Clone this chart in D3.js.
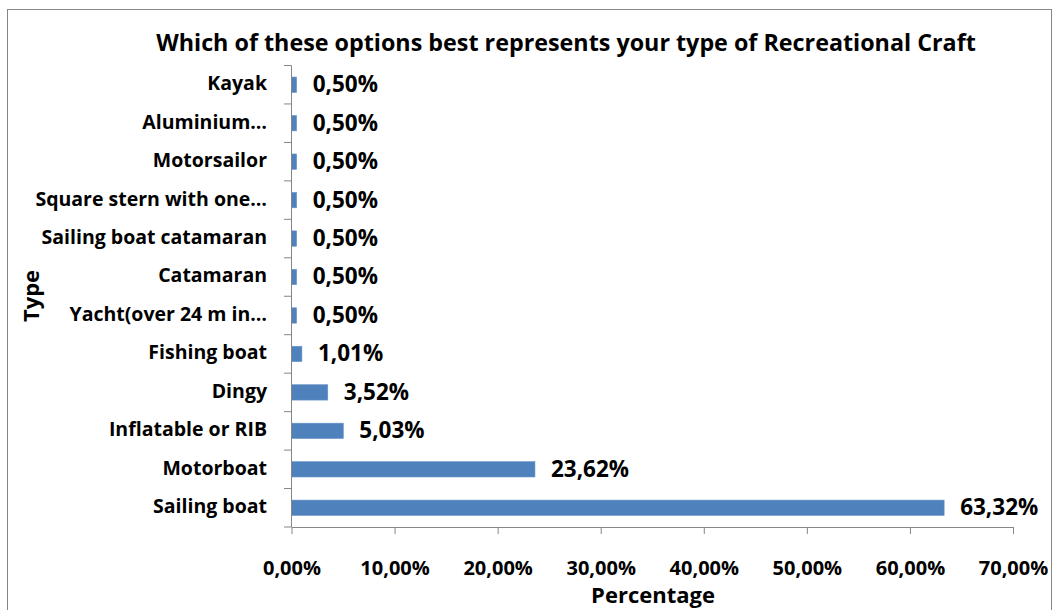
<!DOCTYPE html>
<html>
<head>
<meta charset="utf-8">
<script src="https://cdn.jsdelivr.net/npm/d3@7"></script>
<style>
  body { margin: 0; background: #fff; }
  text { font-family: "Open Sans", sans-serif; font-weight: bold; fill: #000; }
  .axis path, .axis line { stroke: #868686; }
</style>
</head>
<body>
<svg id="chart"></svg>
<script>
// chart data
var categories = ["Sailing boat", "Motorboat", "Inflatable or RIB", "Dingy", "Fishing boat",
  "Yacht(over 24 m in\u2026", "Catamaran", "Sailing boat catamaran", "Square stern with one\u2026",
  "Motorsailor", "Aluminium\u2026", "Kayak"];
var values = [63.32, 23.62, 5.03, 3.52, 1.01, 0.50, 0.50, 0.50, 0.50, 0.50, 0.50, 0.50];
var xTicks = [0, 10, 20, 30, 40, 50, 60, 70];

var width = 1057;
var height = 610;

var svg = d3.select("#chart")
  .attr("width", width)
  .attr("height", height);

// outer frame
svg.append("rect")
  .attr("x", 7.5).attr("y", 9.5)
  .attr("width", 1044).attr("height", 620)
  .attr("fill", "none")
  .attr("stroke", "#868686");

var x = d3.scaleLinear().domain([0, 70]).range([291.5, 1013]);
var y = d3.scaleBand()
  .domain(categories.slice().reverse())
  .range([65.5, 527])
  .paddingInner(0.6)
  .paddingOuter(0.3);

var fmt = function(v) { return v.toFixed(2).replace(".", ",") + "%"; };

// bars
svg.append("g").selectAll("rect")
  .data(values)
  .enter().append("rect")
    .attr("x", x(0))
    .attr("y", (d, i) => y(categories[i]))
    .attr("width", d => x(d) - x(0))
    .attr("height", y.bandwidth())
    .attr("fill", "#4f81bd")
    .attr("stroke", "#6b95c8")
    .attr("stroke-width", 0.6);

// value labels
svg.append("g").selectAll("text")
  .data(values)
  .enter().append("text")
    .attr("x", d => x(d) + 16)
    .attr("y", (d, i) => y(categories[i]) + y.bandwidth() / 2)
    .attr("dy", "0.33em")
    .style("font-size", "22.5px")
    .text(d => fmt(d));

// x axis
var xAxis = svg.append("g")
  .attr("class", "axis")
  .attr("transform", "translate(0,527)")
  .call(d3.axisBottom(x).tickValues(xTicks).tickSize(7).tickSizeOuter(0)
    .tickFormat(d => d.toFixed(2).replace(".", ",") + "%"));
xAxis.selectAll("text")
  .attr("y", 34)
  .style("font-size", "20px")
  .attr("fill", "#000");

// y axis with band-boundary ticks
var yAxis = svg.append("g").attr("class", "axis");
yAxis.append("line")
  .attr("x1", 291.5).attr("x2", 291.5)
  .attr("y1", 65.5).attr("y2", 527);
var step = (527 - 65.5) / categories.length;
yAxis.selectAll("line.tk")
  .data(d3.range(categories.length + 1))
  .enter().append("line")
    .attr("class", "tk")
    .attr("x1", 284).attr("x2", 291.5)
    .attr("y1", i => 65.5 + i * step)
    .attr("y2", i => 65.5 + i * step);
svg.append("g").selectAll("text")
  .data(categories)
  .enter().append("text")
    .attr("x", 267)
    .attr("y", d => y(d) + y.bandwidth() / 2)
    .attr("dy", "0.28em")
    .attr("text-anchor", "end")
    .style("font-size", "19.5px")
    .text(d => d);

// titles
svg.append("text")
  .attr("x", 566).attr("y", 51)
  .attr("text-anchor", "middle")
  .style("font-size", "23.3px")
  .text("Which of these options best represents your type of Recreational Craft");

svg.append("text")
  .attr("x", 653).attr("y", 603)
  .attr("text-anchor", "middle")
  .style("font-size", "22px")
  .text("Percentage");

svg.append("text")
  .attr("transform", "translate(39,296) rotate(-90)")
  .attr("text-anchor", "middle")
  .style("font-size", "22px")
  .text("Type");
</script>
</body>
</html>
